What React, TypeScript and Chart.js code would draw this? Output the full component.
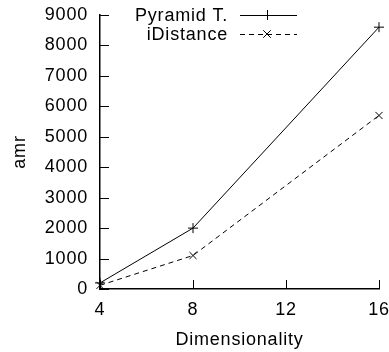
import React, { useEffect, useRef } from "react";
import { Chart, registerables } from "chart.js";

Chart.register(...registerables);

const dims = [4, 8, 16];
const pyramidT = [200, 2000, 8600];
const iDistance = [120, 1100, 5700];
const xTicks = [4, 8, 12, 16];
const yTicks = [0, 1000, 2000, 3000, 4000, 5000, 6000, 7000, 8000, 9000];
const seriesNames = ["Pyramid T.", "iDistance"];

const FONT = "'Liberation Sans', Arial, Helvetica, sans-serif";
const FS = 18;
const LS = "0.8px";

export default function App() {
  const ref = useRef<HTMLCanvasElement | null>(null);

  useEffect(() => {
    document.body.style.margin = "0";
    const canvas = ref.current!;
    const spacing = {
      id: "spacing",
      beforeDraw(chart: any) {
        (chart.ctx as any).letterSpacing = LS;
      },
    };
    const innerTicks = {
      id: "innerTicks",
      afterDraw(chart: any) {
        const ctx = chart.ctx;
        const { left, bottom } = chart.chartArea;
        const xs = chart.scales.x;
        const ys = chart.scales.y;
        ctx.save();
        ctx.strokeStyle = "#000";
        ctx.lineWidth = 1;
        yTicks.forEach((v) => {
          const py = Math.round(ys.getPixelForValue(v)) + 0.5;
          ctx.beginPath();
          ctx.moveTo(left, py);
          ctx.lineTo(left + 9, py);
          ctx.stroke();
        });
        xTicks.forEach((v) => {
          const px = Math.round(xs.getPixelForValue(v)) + 0.5;
          ctx.beginPath();
          ctx.moveTo(px, bottom);
          ctx.lineTo(px, bottom - 9);
          ctx.stroke();
        });
        // legend
        ctx.font = `${FS}px ${FONT}`;
        (ctx as any).letterSpacing = LS;
        ctx.fillStyle = "#000";
        ctx.textAlign = "right";
        ctx.textBaseline = "middle";
        const rows = [15, 34];
        chart.data.datasets.forEach((ds: any, i: number) => {
          const y = rows[i];
          ctx.fillText(seriesNames[i], 228, y + 1);
          ctx.setLineDash(ds.borderDash || []);
          ctx.lineWidth = 1;
          ctx.beginPath();
          ctx.moveTo(240, y + 0.5);
          ctx.lineTo(297, y + 0.5);
          ctx.stroke();
          ctx.setLineDash([]);
          const c = 267;
          const r = 5;
          ctx.beginPath();
          if (ds.pointStyle === "cross") {
            ctx.moveTo(c - r, y + 0.5);
            ctx.lineTo(c + r, y + 0.5);
            ctx.moveTo(c + 0.5, y - r);
            ctx.lineTo(c + 0.5, y + r);
          } else {
            const d = r * 0.75;
            ctx.moveTo(c - d, y - d);
            ctx.lineTo(c + d, y + d);
            ctx.moveTo(c - d, y + d);
            ctx.lineTo(c + d, y - d);
          }
          ctx.stroke();
        });
        ctx.restore();
      },
    };

    const chart = new Chart(canvas, {
      type: "line",
      data: {
        datasets: [
          {
            label: seriesNames[0],
            data: dims.map((d, i) => ({ x: d, y: pyramidT[i] })),
            borderColor: "#000",
            backgroundColor: "#000",
            borderWidth: 1,
            pointStyle: "cross",
            pointRadius: 5,
            pointBorderWidth: 1,
            pointBorderColor: "#000",
            clip: false,
            tension: 0,
          },
          {
            label: seriesNames[1],
            data: dims.map((d, i) => ({ x: d, y: iDistance[i] })),
            borderColor: "#000",
            backgroundColor: "#000",
            borderWidth: 1,
            borderDash: [5, 4],
            pointStyle: "crossRot",
            pointRadius: 5,
            pointBorderWidth: 1,
            pointBorderColor: "#000",
            clip: false,
            tension: 0,
          },
        ],
      } as any,
      plugins: [spacing, innerTicks],
      options: {
        animation: false,
        responsive: false,
        maintainAspectRatio: false,
        layout: { padding: { top: 15, right: 10, left: 0, bottom: 0 } },
        plugins: { legend: { display: false }, tooltip: { enabled: false } },
        scales: {
          x: {
            type: "linear",
            min: 4,
            max: 16,
            afterBuildTicks: (s: any) => {
              s.ticks = xTicks.map((v) => ({ value: v }));
            },
            afterFit: (s: any) => {
              s.height = 63;
              s.paddingLeft = 0;
              s.paddingRight = 0;
            },
            grid: { display: false, drawTicks: false },
            border: { display: true, color: "#000", width: 1.5 },
            ticks: {
              color: "#000",
              font: { family: FONT, size: FS },
              padding: 10,
              maxRotation: 0,
              callback: (v: any) => String(v),
            },
            title: {
              display: true,
              text: "Dimensionality",
              color: "#000",
              font: { family: FONT, size: FS },
              padding: { top: 0, bottom: 1 },
            },
          },
          y: {
            type: "linear",
            min: 0,
            max: 9000,
            afterBuildTicks: (s: any) => {
              s.ticks = yTicks.map((v) => ({ value: v }));
            },
            afterFit: (s: any) => {
              s.width = 100;
              s.paddingTop = 0;
              s.paddingBottom = 0;
            },
            grid: { display: false, drawTicks: false },
            border: { display: true, color: "#000", width: 1.5 },
            ticks: {
              color: "#000",
              font: { family: FONT, size: FS },
              padding: 12,
              callback: (v: any) => String(v),
            },
            title: {
              display: true,
              text: "amr",
              color: "#000",
              font: { family: FONT, size: FS },
              padding: { top: 9, bottom: 0 },
            },
          },
        },
      } as any,
    });
    return () => chart.destroy();
  }, []);

  return (
    <div style={{ position: "absolute", left: 0, top: 0, width: 389, height: 352 }}>
      <canvas ref={ref} width={389} height={352} style={{ width: 389, height: 352, display: "block" }} />
    </div>
  );
}
